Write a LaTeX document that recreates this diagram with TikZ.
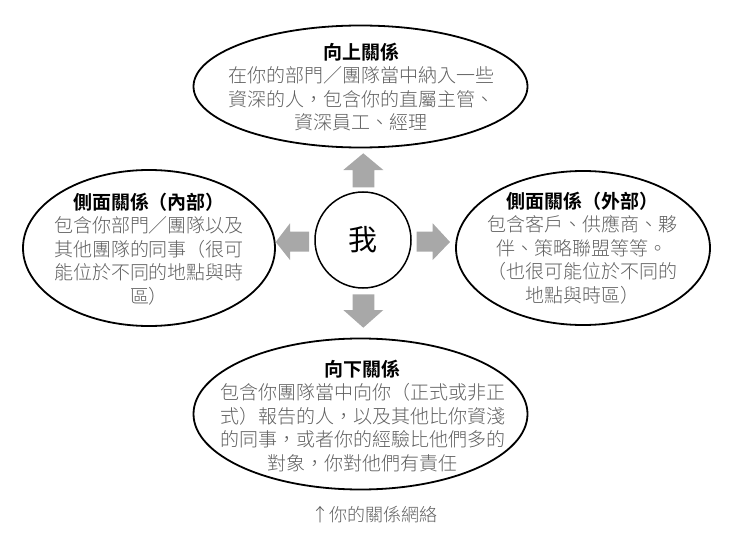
\documentclass[tikz,border=0pt]{standalone}
\usetikzlibrary{shapes.geometric}
\usepackage{fontspec}
\newfontfamily\cjk{Noto Sans CJK TC Light}[BoldFont={Noto Sans CJK TC Bold}]
\newfontfamily\cjkreg{Noto Sans CJK TC}
\definecolor{arrowgray}{RGB}{168,168,168}
\definecolor{bodygray}{RGB}{95,95,95}
\begin{document}
\begin{tikzpicture}[x=1pt,y=-1pt,
  rel/.style={draw=black, line width=1.8pt, ellipse, inner sep=0pt},
  txt/.style={align=center, inner sep=0pt, font=\cjk\fontsize{19}{23.5}\selectfont, text=bodygray},
  blk/.style={fill=arrowgray, draw=none}]
\useasboundingbox (0,0) rectangle (729,543);
% ellipses
\node[rel, minimum width=334pt, minimum height=122pt] (up) at (360.5,86.5) {};
\node[rel, minimum width=252pt, minimum height=156pt] (left) at (149,248) {};
\node[rel, minimum width=254pt, minimum height=154pt] (right) at (583,248) {};
\node[rel, minimum width=334pt, minimum height=151pt] (down) at (360.5,414) {};
% centre
\node[draw=black, line width=1.5pt, circle, minimum size=96pt, inner sep=0pt,
      font=\cjkreg\fontsize{29}{32}\selectfont] (me) at (363,240) {我};
% texts
\node[txt] (upt) at (361,87) {{\color{black}\bfseries 向上關係}\\在你的部門／團隊當中納入一些\\資深的人，包含你的直屬主管、\\資深員工、經理};
\node[txt] (leftt) at (149,249) {{\color{black}\bfseries 側面關係（內部）}\\包含你部門／團隊以及\\其他團隊的同事（很可\\能位於不同的地點與時\\區）};
\node[txt] (rightt) at (582,248) {{\color{black}\bfseries 側面關係（外部）}\\包含客戶、供應商、夥\\伴、策略聯盟等等。\\（也很可能位於不同的\\地點與時區）};
\node[txt] (downt) at (362.5,416) {{\color{black}\bfseries 向下關係}\\包含你團隊當中向你（正式或非正\\式）報告的人，以及其他比你資淺\\的同事，或者你的經驗比他們多的\\對象，你對他們有責任};
\node[txt, font=\cjk\fontsize{18}{22}\selectfont] (cap) at (374,515) {↑你的關係網絡};
% block arrows
\fill[blk] (363.3,153.3) -- (383.3,170) -- (374.3,170) -- (374.3,187.3) -- (352.7,187.3) -- (352.7,170) -- (343.3,170) -- cycle;
\fill[blk] (363.3,327.7) -- (383.3,310) -- (374.3,310) -- (374.3,294.3) -- (352.7,294.3) -- (352.7,310) -- (343.3,310) -- cycle;
\fill[blk] (275.7,242) -- (290,223.3) -- (290,231.7) -- (309,231.7) -- (309,251.5) -- (290,251.5) -- (290,260) -- cycle;
\fill[blk] (450,242) -- (432.7,223.3) -- (432.7,231.7) -- (416.7,231.7) -- (416.7,251.5) -- (432.7,251.5) -- (432.7,260) -- cycle;
\end{tikzpicture}
\end{document}
